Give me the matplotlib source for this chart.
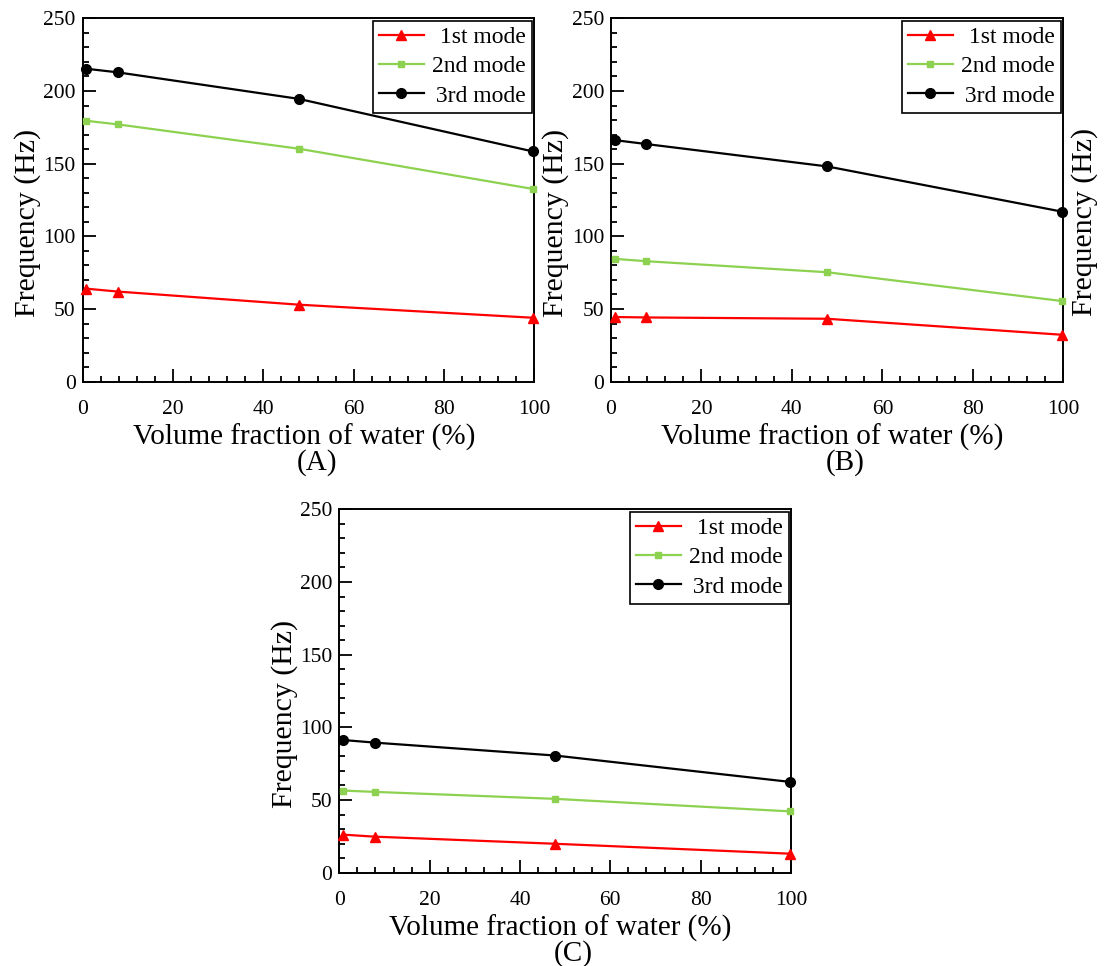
import matplotlib
matplotlib.use("Agg")
import matplotlib.pyplot as plt
from matplotlib.ticker import MultipleLocator

plt.rcParams['font.family'] = ['Liberation Serif', 'DejaVu Serif']

# volume fraction of water (%) at the computed points
water = [0.8, 7.8, 47.8, 99.7]

# frequencies (Hz)
a_mode1 = [64.0, 62.0, 53.0, 44.0]
a_mode2 = [179.5, 177.0, 160.3, 132.6]
a_mode3 = [215.3, 212.8, 194.6, 158.4]

b_mode1 = [44.5, 44.2, 43.3, 32.3]
b_mode2 = [84.5, 82.9, 75.3, 55.5]
b_mode3 = [166.2, 163.5, 148.1, 117.0]

c_mode1 = [26.2, 24.8, 19.9, 13.1]
c_mode2 = [56.5, 55.6, 50.8, 42.2]
c_mode3 = [91.3, 89.5, 80.6, 62.5]

panel_tags = ['(A)', '(B)', '(C)']
# leading spaces push the shorter labels to the right like the original
mode_labels = ['\u20041st mode', '2nd mode', '\u20063rd mode']
mode_colors = ['#ff0000', '#8cd14f', '#000000']
mode_markers = ['^', 's', 'o']
marker_sizes = [6.5, 5, 7]

W, H = 1111, 966
fig = plt.figure(figsize=(W / 100, H / 100), dpi=100)

# axes boxes in pixels: left, top, right, bottom
boxes = [(82.7, 18.3, 534.3, 381.7),
         (611.0, 18.3, 1063.3, 381.7),
         (339.3, 509.3, 791.0, 872.7)]
panel_data = [(a_mode1, a_mode2, a_mode3),
              (b_mode1, b_mode2, b_mode3),
              (c_mode1, c_mode2, c_mode3)]

for (l, t, r, b), series, tag in zip(boxes, panel_data, panel_tags):
    ax = fig.add_axes([l / W, (H - b) / H, (r - l) / W, (b - t) / H])
    for vals, lab, col, mk, ms in zip(series, mode_labels, mode_colors, mode_markers, marker_sizes):
        ax.plot(water, vals, color=col, marker=mk, markersize=ms, lw=1.6,
                label=lab, clip_on=False, zorder=3)

    ax.set_xlim(0, 100)
    ax.set_ylim(0, 250)
    ax.xaxis.set_major_locator(MultipleLocator(20))
    ax.xaxis.set_minor_locator(MultipleLocator(4))
    ax.yaxis.set_major_locator(MultipleLocator(50))
    ax.yaxis.set_minor_locator(MultipleLocator(10))
    ax.tick_params(which='both', direction='in', top=False, right=False, width=1.3, colors='black')
    ax.tick_params(which='major', length=9.5, labelsize=15.5)
    ax.tick_params(axis='x', which='major', pad=13)
    ax.tick_params(axis='y', which='major', pad=5)
    ax.tick_params(which='minor', length=4.5)
    for sp in ax.spines.values():
        sp.set_linewidth(1.4)

    ax.set_xlabel('Volume fraction of water (%)', fontsize=21)
    ax.xaxis.set_label_coords(0.49, -0.115)
    ax.set_ylabel('Frequency (Hz)', fontsize=21.5)
    ax.yaxis.set_label_coords(-0.092, 0.437)

    leg = ax.legend(loc='upper right', bbox_to_anchor=(1, 1), fontsize=17,
                    fancybox=False, edgecolor='black', framealpha=1,
                    handlelength=1.9, handletextpad=0.35, borderpad=0.25,
                    labelspacing=0.33, borderaxespad=0.1)
    leg.get_frame().set_linewidth(1.2)

    fig.text(((l + r) / 2 + 8) / W, (H - (b + 81)) / H, tag, fontsize=21,
             ha='center', va='center')

# label of the cut-off panel at the right edge
fig.text(1098 / W, (H - 222) / H, 'Frequency (Hz)', fontsize=21.5,
         rotation=90, ha='right', va='center')

fig.savefig('out.png', dpi=100)
